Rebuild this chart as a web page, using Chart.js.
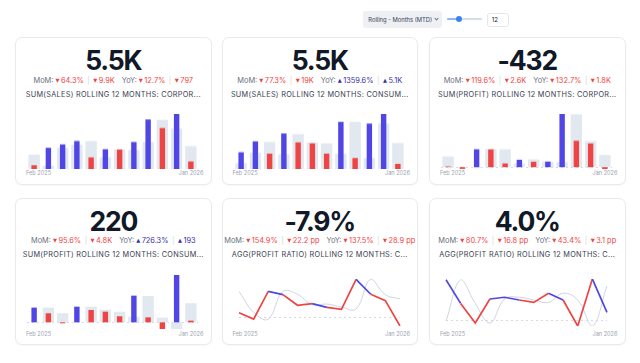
<!DOCTYPE html>
<html>
<head>
<meta charset="utf-8">
<script src="https://cdn.jsdelivr.net/npm/chart.js@4.4.1/dist/chart.umd.min.js"></script>
<style>
body{margin:0;width:640px;height:363px;background:#fff;font-family:Inter,"Noto Sans",sans-serif;position:relative;overflow:hidden}
.card{position:absolute;width:196.5px;height:147.5px;border:1px solid #e8eaee;border-radius:7px;box-sizing:border-box;background:#fff;box-shadow:0 1px 2px rgba(0,0,0,0.03)}
.big{position:absolute;left:0;right:0;top:7px;text-align:center;font-size:26.5px;font-weight:700;line-height:30px;color:#111827;letter-spacing:-1.2px}
.delta{position:absolute;left:-10px;right:-10px;top:36.5px;text-align:center;font-size:7.4px;line-height:11px;color:#6b7280;white-space:nowrap}
.delta .neg{color:#ef4444}
.delta .pos{color:#3730a3}
.delta .sep{color:#d1d5db;margin:0 3.5px}
.delta .gap{display:inline-block;width:7px}
.tri{font-family:"DejaVu Sans",sans-serif;font-size:5.2px;position:relative;top:-0.6px;margin-right:1.5px}
.title{position:absolute;left:-10px;right:-10px;top:50.5px;text-align:center;font-size:7.3px;letter-spacing:0.3px;line-height:11px;color:#374151;white-space:nowrap}
.dates{position:absolute;left:10px;right:7px;top:131px;display:flex;justify-content:space-between;font-size:5.6px;line-height:8px;color:#9ca3af}
.barbox{position:absolute;left:11px;top:76.3px;width:171px;height:54.3px}
.linebox{position:absolute;left:13.3px;top:78.7px;width:167px;height:51px}
#dd{position:absolute;left:362.7px;top:11px;width:79.6px;height:17px;background:#eef0f4;border-radius:3px;font-size:5.8px;line-height:17px;color:#374151;padding-left:5.6px;box-sizing:border-box;white-space:nowrap}
#dd i{position:absolute;left:72.5px;top:6.2px;width:2px;height:2px;border-right:0.7px solid #6b7280;border-bottom:0.7px solid #6b7280;transform:rotate(45deg)}
#track{position:absolute;left:446.7px;top:18.3px;width:35px;height:1.4px;background:#d5dde8;border-radius:1px}
#fill{position:absolute;left:446.7px;top:18.3px;width:12px;height:1.4px;background:#93b4f5;border-radius:1px}
#thumb{position:absolute;left:455.6px;top:15.9px;width:6.2px;height:6.2px;border-radius:50%;background:#3b82f6}
#num{position:absolute;left:486.7px;top:12.7px;width:22.3px;height:14px;border:1px solid #e5e7eb;border-radius:3px;box-sizing:border-box;font-size:6.2px;line-height:12px;padding-left:4px;color:#111827}
</style>
</head>
<body>
<div id="dd">Rolling - Months (MTD)<i></i></div>
<div id="track"></div><div id="fill"></div><div id="thumb"></div>
<div id="num">12</div>

<script>
const months = ['Feb 2025','Mar 2025','Apr 2025','May 2025','Jun 2025','Jul 2025','Aug 2025','Sep 2025','Oct 2025','Nov 2025','Dec 2025','Jan 2026'];

// sales, corporate / consumer (current month vs previous)
const corpSales     = [1140, 5990, 6940, 7890, 3330, 5610, 5520, 7610, 13880, 11510, 15400, 2190];
const corpSalesPrev = [4090, 950, 5990, 6850, 7890, 3330, 5610, 5420, 7610, 13790, 11320, 6470];
const consSales     = [7470, 12250, 6870, 15690, 11800, 11350, 6870, 20770, 4930, 20020, 24200, 2390];
const consSalesPrev = [2690, 7320, 11950, 6570, 15390, 11800, 11350, 6870, 20770, 4930, 20020, 11500];

// profit
const corpProfit     = [62, -160, 1664, 1650, 345, 690, 502, 518, 4930, 2450, 2200, -200];
const corpProfitPrev = [1005, 30, -94, 1696, 1664, 345, 722, 502, 471, 4900, 2418, 1130];
const consProfit     = [1560, 960, -105, 1660, 1310, 1130, 640, 2830, 530, -740, 5020, 180];
const consProfitPrev = [20, 1560, 960, -35, 1660, 1345, 1130, 600, 2800, 500, -710, 2020];

// profit ratio, %
const corpRatio     = [3.5, -2.0, 21.8, 19.1, 9.9, 11.3, 8.1, 6.4, 32.2, 19.4, 13.9, -7.9];
const corpRatioPrev = [21.8, 3.8, -2.0, 21.8, 19.4, 10.4, 11.0, 8.4, 6.7, 32.5, 18.9, 15.4];
const consRatio     = [20.4, 8.5, -1.4, 10.7, 11.6, 10.2, 9.0, 13.6, 10.2, -2.9, 20.8, 4.0];
const consRatioPrev = [-0.5, 20.4, 8.5, -1.4, 10.7, 11.6, 10.2, 9.0, 13.6, 10.2, -2.9, 17.3];

const headline = ['5.5K', '5.5K', '-432', '220', '-7.9%', '4.0%'];
const titles = [
  'SUM(SALES) ROLLING 12 MONTHS: CORPOR...',
  'SUM(SALES) ROLLING 12 MONTHS: CONSUM...',
  'SUM(PROFIT) ROLLING 12 MONTHS: CORPOR...',
  'SUM(PROFIT) ROLLING 12 MONTHS: CONSUM...',
  'AGG(PROFIT RATIO) ROLLING 12 MONTHS: C...',
  'AGG(PROFIT RATIO) ROLLING 12 MONTHS: C...'
];
// [direction, pct, abs] for MoM then YoY
const momText = [['down','64.3%','9.9K'], ['down','77.3%','19K'], ['down','119.6%','2.6K'], ['down','95.6%','4.8K'], ['down','154.9%','22.2 pp'], ['down','80.7%','16.8 pp']];
const yoyText = [['down','12.7%','797'], ['up','1359.6%','5.1K'], ['down','132.7%','1.8K'], ['up','726.3%','193'], ['down','137.5%','28.9 pp'], ['down','43.4%','3.1 pp']];

const BLUE = '#4f46e5', RED = '#ef4444', GHOST = '#e2e8f0', GHOST_LINE = '#cbd5e1';

const lefts = [15, 221.5, 429];
const tops = [37, 197.5];

function val(d) {
  const cls = d[0] == 'up' ? 'pos' : 'neg';
  const t = d[0] == 'up' ? '▲' : '▼';
  return `<span class="${cls}"><span class="tri">${t}</span>${d[1]}</span><span class="sep">|</span><span class="${cls}"><span class="tri">${t}</span>${d[2]}</span>`;
}

const canvases = [];
for (let i = 0; i < 6; i++) {
  const card = document.createElement('div');
  card.className = 'card';
  card.style.left = lefts[i % 3] + 'px';
  card.style.top = tops[Math.floor(i / 3)] + 'px';
  const box = i < 4 ? 'barbox' : 'linebox';
  card.innerHTML =
    `<div class="big">${headline[i]}</div>` +
    `<div class="delta">MoM: ${val(momText[i])}<span class="gap"></span>YoY: ${val(yoyText[i])}</div>` +
    `<div class="title">${titles[i]}</div>` +
    `<div class="${box}"><canvas></canvas></div>` +
    `<div class="dates"><span>${months[0]}</span><span>${months[months.length - 1]}</span></div>`;
  document.body.appendChild(card);
  canvases.push(card.querySelector('canvas'));
}

const zeroLine = {
  id: 'zeroLine',
  beforeDatasetsDraw(chart) {
    const y = Math.round(chart.scales.y.getPixelForValue(0)) + 0.5;
    const a = chart.chartArea, c = chart.ctx;
    c.save();
    c.strokeStyle = '#d6d9de';
    c.lineWidth = 1;
    c.setLineDash([2, 3]);
    c.beginPath();
    c.moveTo(a.left, y);
    c.lineTo(a.right, y);
    c.stroke();
    c.restore();
  }
};

const common = {
  responsive: true,
  maintainAspectRatio: false,
  animation: false,
  events: [],
  plugins: { legend: { display: false }, tooltip: { enabled: false } }
};

function barChart(canvas, cur, prev) {
  const lo = Math.min(0, ...cur, ...prev), hi = Math.max(...cur, ...prev);
  new Chart(canvas, {
    type: 'bar',
    data: {
      labels: months,
      datasets: [
        { data: cur, backgroundColor: cur.map((v, i) => v >= prev[i] ? BLUE : RED),
          barPercentage: 0.38, categoryPercentage: 1, grouped: false, order: 0 },
        { data: prev, backgroundColor: GHOST,
          barPercentage: 0.8, categoryPercentage: 1, grouped: false, order: 1 }
      ]
    },
    options: { ...common, layout: { padding: 0 },
      scales: { x: { display: false }, y: { display: false, min: lo, max: hi } } },
    plugins: [zeroLine]
  });
}

function lineChart(canvas, cur, prev) {
  const lo = Math.min(...cur, ...prev), hi = Math.max(...cur, ...prev);
  new Chart(canvas, {
    type: 'line',
    data: {
      labels: months,
      datasets: [
        { data: cur, borderColor: RED, borderWidth: 1.7, pointRadius: 0, tension: 0, order: 0,
          segment: { borderColor: ctx => cur[ctx.p0DataIndex] >= prev[ctx.p0DataIndex] ? BLUE : RED } },
        { data: prev, borderColor: GHOST_LINE, borderWidth: 1, pointRadius: 0, tension: 0.4, order: 1 }
      ]
    },
    options: { ...common, layout: { padding: { left: 3, right: 3, top: 2, bottom: 2 } },
      scales: { x: { display: false }, y: { display: false, min: lo, max: hi } } },
    plugins: [zeroLine]
  });
}

barChart(canvases[0], corpSales, corpSalesPrev);
barChart(canvases[1], consSales, consSalesPrev);
barChart(canvases[2], corpProfit, corpProfitPrev);
barChart(canvases[3], consProfit, consProfitPrev);
lineChart(canvases[4], corpRatio, corpRatioPrev);
lineChart(canvases[5], consRatio, consRatioPrev);
</script>
</body>
</html>
